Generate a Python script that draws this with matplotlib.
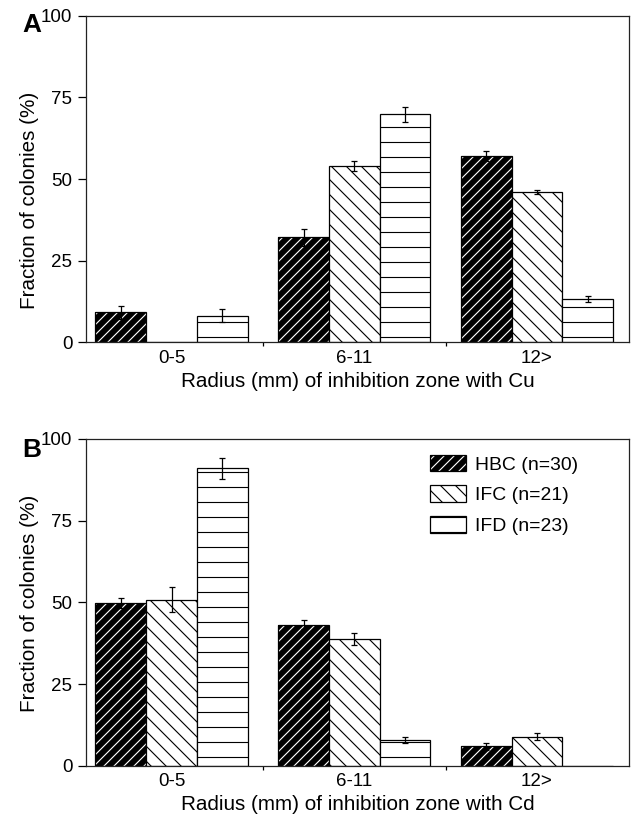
import numpy as np
import matplotlib.pyplot as plt
from matplotlib.patches import Patch

plt.rcParams['font.family'] = ['Liberation Sans', 'DejaVu Sans']
plt.rcParams['hatch.linewidth'] = 0.9

categories = ['0-5', '6-11', '12>']
series = ['HBC (n=30)', 'IFC (n=21)', 'IFD (n=23)']

# panel A, Cu
cu_hbc = [9.1, 32.1, 57.0]
cu_hbc_err = [2.0, 2.5, 1.6]
cu_ifc = [0.0, 54.0, 46.0]
cu_ifc_err = [0.0, 1.4, 0.7]
cu_ifd = [8.1, 69.8, 13.1]
cu_ifd_err = [1.9, 2.3, 0.9]

# panel B, Cd
cd_hbc = [49.9, 43.2, 6.0]
cd_hbc_err = [1.6, 1.3, 1.0]
cd_ifc = [50.9, 38.9, 9.0]
cd_ifc_err = [3.7, 1.8, 1.0]
cd_ifd = [91.0, 7.9, 0.0]
cd_ifd_err = [3.1, 1.0, 0.0]

yticks = [0, 25, 50, 75, 100]

W = 0.278
DPI = 90


def draw_panel(ax, hbc, hbc_err, ifc, ifc_err, ifd, ifd_err, xlabel):
    x = np.arange(len(categories))
    # HBC: black with white hatch, then a black outline on top
    ax.bar(x - W, hbc, W, color='black', edgecolor='white', hatch='///', linewidth=0)
    ax.bar(x - W, hbc, W, fill=False, edgecolor='black', linewidth=1)
    ax.bar(x, ifc, W, color='white', edgecolor='black', hatch='\\\\', linewidth=1)
    ax.bar(x + W, ifd, W, color='white', edgecolor='black', hatch='-', linewidth=1)

    for off, v, e in [(-W, hbc, hbc_err), (0, ifc, ifc_err), (W, ifd, ifd_err)]:
        v = np.array(v, dtype=float)
        y = np.where(v > 0, v, np.nan)
        ax.errorbar(x + off, y, yerr=e, fmt='none', ecolor='black',
                    elinewidth=1, capsize=2.5, capthick=1)

    ax.set_xlim(-0.4685, 2.5035)
    ax.set_ylim(0, 100)
    ax.set_yticks(yticks)
    ax.set_xticks(x, categories)
    ax.set_xticks([0.5, 1.5], minor=True)
    ax.tick_params(axis='x', which='major', length=0, pad=6, labelsize=15)
    ax.tick_params(axis='x', which='minor', length=3.5, width=1)
    ax.tick_params(axis='y', length=6.4, width=1, pad=4.5, labelsize=15)
    for s in ax.spines.values():
        s.set_linewidth(1)
        s.set_color('#222222')
    ax.set_xlabel(xlabel, fontsize=16.5, labelpad=4)
    ax.set_ylabel('Fraction of colonies (%)', fontsize=16.5)


fig = plt.figure(figsize=(631 / DPI, 820 / DPI), dpi=DPI)
axA = fig.add_axes([0.1363, 0.5829, 0.8605, 0.3976])
axB = fig.add_axes([0.1363, 0.0659, 0.8605, 0.3988])

draw_panel(axA, cu_hbc, cu_hbc_err, cu_ifc, cu_ifc_err, cu_ifd, cu_ifd_err,
           'Radius (mm) of inhibition zone with Cu')
draw_panel(axB, cd_hbc, cd_hbc_err, cd_ifc, cd_ifc_err, cd_ifd, cd_ifd_err,
           'Radius (mm) of inhibition zone with Cd')
axA.yaxis.set_label_coords(-0.0866, 0.4356)
axB.yaxis.set_label_coords(-0.0866, 0.4985)

handles = [
    (Patch(facecolor='black', edgecolor='white', hatch='///', linewidth=0),
     Patch(fill=False, edgecolor='black', linewidth=1)),
    Patch(facecolor='white', edgecolor='black', hatch='\\\\', linewidth=1),
    Patch(facecolor='white', edgecolor='black', hatch='-', linewidth=1),
]
axB.legend(handles, series, loc='upper left', bbox_to_anchor=(0.6335, 0.952),
           frameon=False, fontsize=15.5, borderpad=0, borderaxespad=0,
           handlelength=1.87, handleheight=0.95, handletextpad=0.47,
           labelspacing=0.6)

fig.text(22 / 631, 1 - 32 / 820, 'A', fontsize=21, fontweight='bold',
         ha='left', va='baseline')
fig.text(22 / 631, 1 - 457 / 820, 'B', fontsize=21, fontweight='bold',
         ha='left', va='baseline')

fig.savefig('out.png', dpi=DPI)
